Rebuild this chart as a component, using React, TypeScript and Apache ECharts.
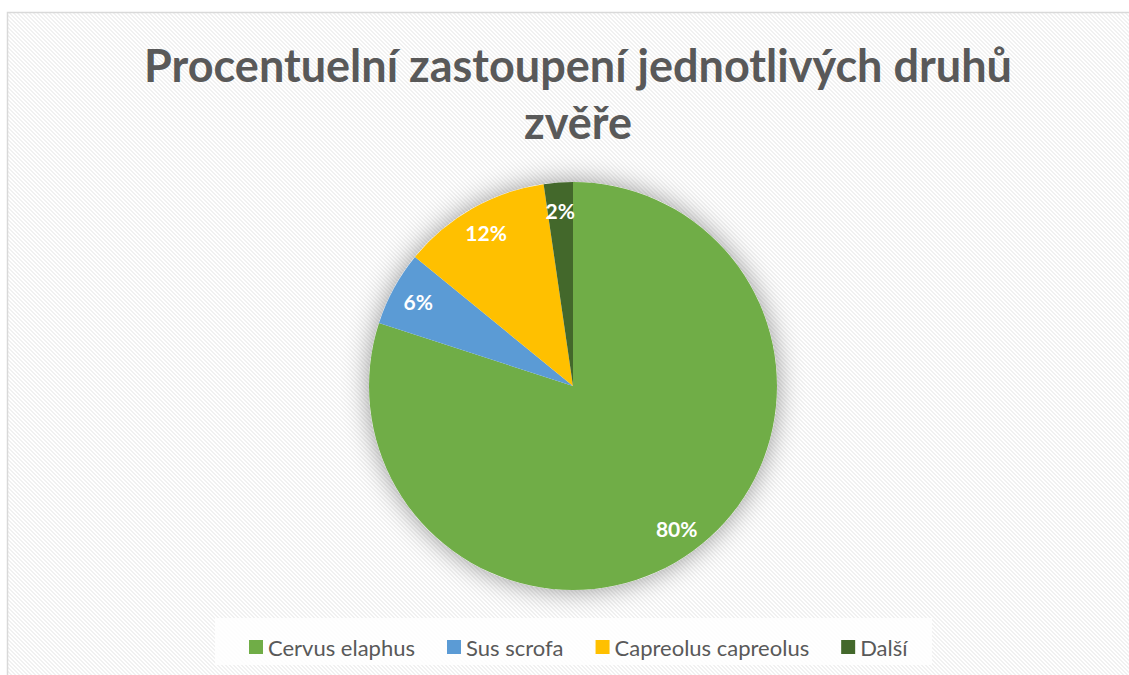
import React, { useEffect, useRef } from "react";
import * as echarts from "echarts";

const categories = ["Cervus elaphus", "Sus scrofa", "Capreolus capreolus", "Další"];
const values = [80.0, 5.9, 11.8, 2.3];
const colors = ["#70AD47", "#5B9BD5", "#FFC000", "#43682B"];
const titleLines = ["Procentuelní zastoupení jednotlivých druhů", "zvěře"];

function makePattern(): string {
  const c = document.createElement("canvas");
  c.width = 8;
  c.height = 8;
  const ctx = c.getContext("2d");
  if (!ctx) return "";
  for (let x = 0; x < 8; x++) {
    for (let y = 0; y < 8; y++) {
      ctx.fillStyle = (x - y + 16) % 4 < 2 ? "#F1F1F1" : "#FFFFFF";
      ctx.fillRect(x, y, 1, 1);
    }
  }
  return c.toDataURL();
}

export default function App() {
  const ref = useRef<HTMLDivElement>(null);
  useEffect(() => {
    if (!ref.current) return;
    const chart = echarts.init(ref.current, undefined, { renderer: "svg" });
    const pattern = makePattern();
    const center = [573, 386];
    const R = 204;
    const data = categories.map((n, i) => ({
      name: n,
      value: values[i],
      itemStyle: { color: colors[i] },
    }));
    chart.setOption({
      animation: false,
      backgroundColor: "#FFFFFF",
      title: {
        text: titleLines.join("\n"),
        left: 573,
        top: 31,
        textAlign: "center",
        textStyle: {
          fontFamily: "Lato",
          fontWeight: "bold",
          fontSize: 45,
          color: "#595959",
          lineHeight: 57,
        },
      },
      graphic: [
        {
          type: "rect",
          z: -10,
          silent: true,
          shape: { x: 7.5, y: 12.5, width: 1140, height: 700 },
          style: {
            fill: pattern ? { image: pattern, repeat: "repeat" } : "#FAFAFA",
            stroke: "#D9D9D9",
            lineWidth: 1.5,
          },
        },
        {
          type: "rect",
          z: -5,
          silent: true,
          shape: { x: 215, y: 618, width: 717, height: 47 },
          style: { fill: "rgba(255,255,255,0.85)" },
        },
      ],
      legend: {
        data: categories,
        left: 244,
        top: 631,
        itemWidth: 14,
        itemHeight: 14,
        itemGap: 32,
        icon: "rect",
        textStyle: { fontFamily: "Lato", fontSize: 22, color: "#595959" },
      },
      series: [
        {
          type: "pie",
          z: 1,
          silent: true,
          center,
          radius: R,
          label: { show: false },
          labelLine: { show: false },
          data: [{ name: "_bg", value: 1 }],
          itemStyle: {
            color: "#FFFFFF",
            shadowBlur: 26,
            shadowColor: "rgba(0,0,0,0.4)",
          },
        },
        {
          type: "pie",
          z: 2,
          center,
          radius: R,
          startAngle: 90,
          clockwise: true,
          label: { show: false },
          labelLine: { show: false },
          itemStyle: { borderWidth: 0 },
          data,
        },
        {
          type: "pie",
          z: 3,
          silent: true,
          center,
          radius: [R * 0.7, R],
          startAngle: 90,
          clockwise: true,
          percentPrecision: 0,
          itemStyle: { color: "transparent", borderWidth: 0 },
          label: {
            show: true,
            position: "inside",
            formatter: "{d}%",
            fontFamily: "Lato",
            fontWeight: "bold",
            fontSize: 21,
            color: "#FFFFFF",
          },
          labelLine: { show: false },
          emphasis: { disabled: true },
          data: categories.map((n, i) => ({ name: n, value: values[i] })),
        },
      ],
    });
    return () => chart.dispose();
  }, []);
  return (
    <div
      ref={ref}
      style={{ position: "absolute", left: 0, top: 0, width: 1129, height: 675 }}
    />
  );
}
